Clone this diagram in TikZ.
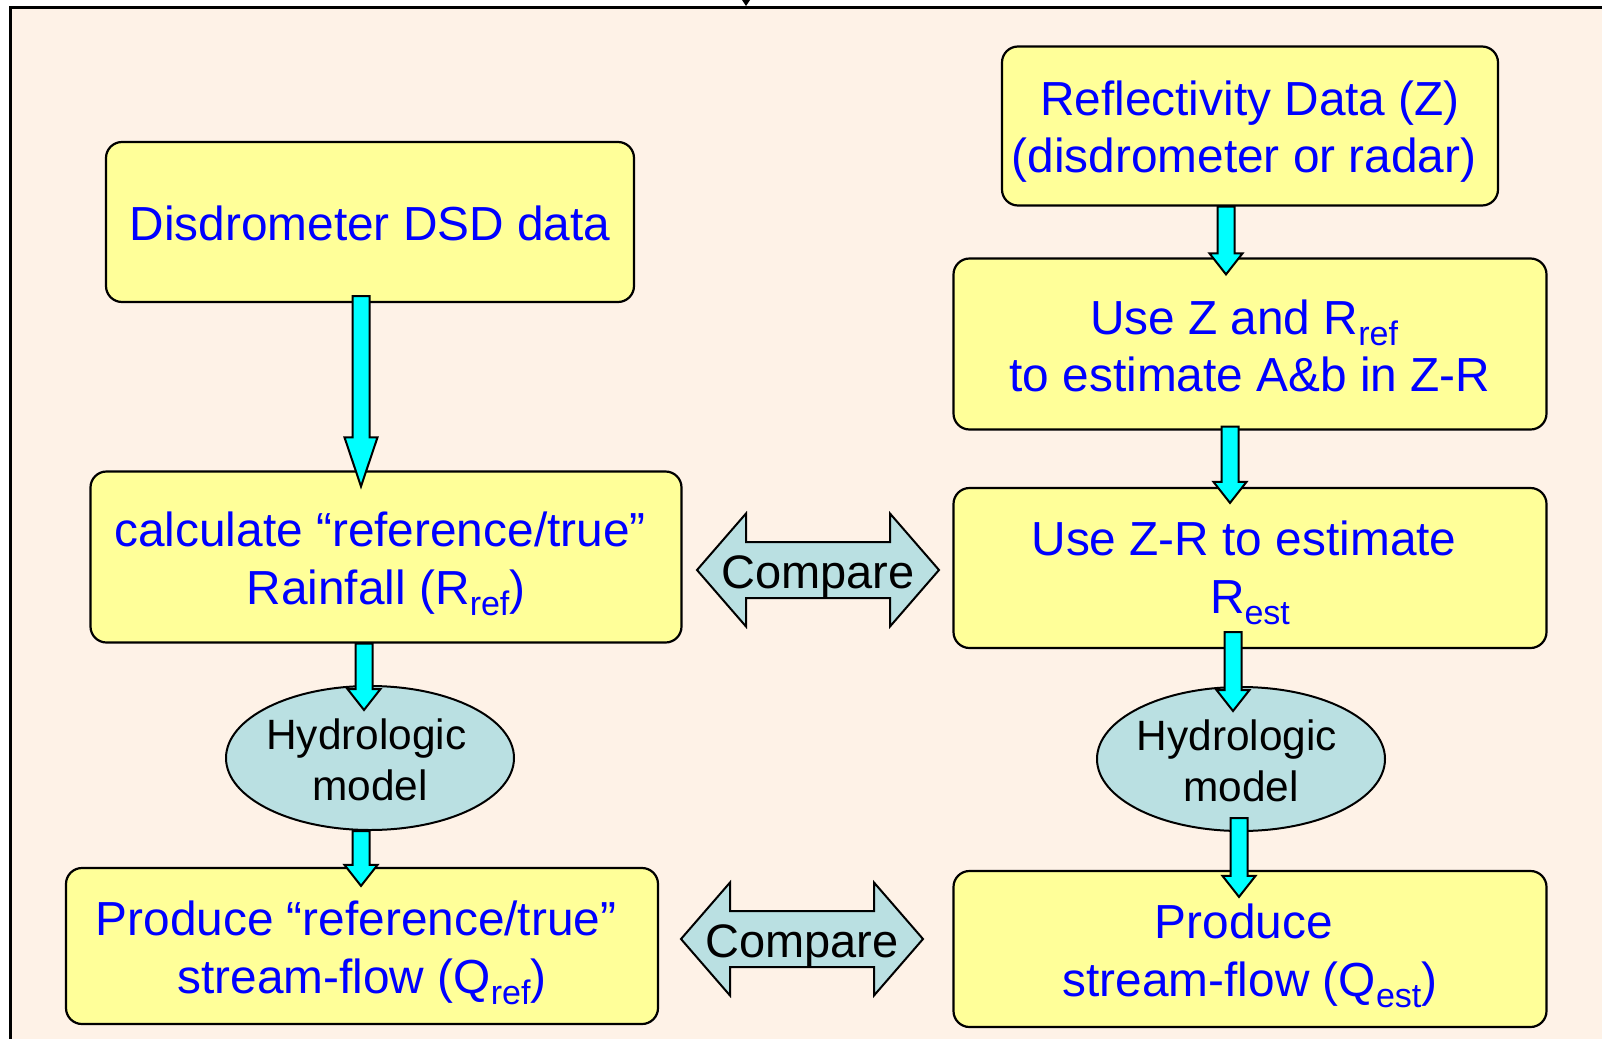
\documentclass[tikz,border=0pt]{standalone}
\usepackage{fontspec}
\setmainfont{Liberation Sans}
\usetikzlibrary{calc,shapes.geometric}
\definecolor{bgpeach}{RGB}{254,242,231}
\definecolor{boxy}{RGB}{255,255,153}
\definecolor{ellb}{RGB}{186,224,226}
\definecolor{txtb}{RGB}{0,0,255}
\definecolor{arrc}{RGB}{0,255,255}
\newcommand\sbs[1]{\raisebox{-5.6pt}{\fontsize{17}{17}\selectfont #1}}
\newcommand\trail{\hspace*{6pt}}
\newcommand\cyarrow[3]{\draw[cyarr] let \p1=(#1), \p2=(#2) in
  (\x1-4.25pt,\y1) -- (\x1-4.25pt,\y2+#3) -- (\x1-8.25pt,\y2+#3) -- (\x1,\y2)
  -- (\x1+8.25pt,\y2+#3) -- (\x1+4.25pt,\y2+#3) -- (\x1+4.25pt,\y1) -- cycle;}
\newcommand\cmparrow[1]{\draw[cmpar] ($(#1)+(-121,0)$) -- ($(#1)+(-72,-56.5)$) -- ($(#1)+(-72,-28)$)
  -- ($(#1)+(72,-28)$) -- ($(#1)+(72,-56.5)$) -- ($(#1)+(121,0)$) -- ($(#1)+(72,56.5)$)
  -- ($(#1)+(72,28)$) -- ($(#1)+(-72,28)$) -- ($(#1)+(-72,56.5)$) -- cycle;}
\tikzset{
  flowbox/.style={draw=black, line width=1.1pt, fill=boxy, rounded corners=8pt, inner sep=0pt},
  boxtext/.style={align=center, text=txtb, inner sep=0pt, font=\fontsize{23.9}{28.6}\selectfont},
  hydro/.style={ellipse, draw=black, line width=1pt, fill=ellb, inner sep=0pt,
    minimum width=144pt, minimum height=72pt},
  hydrotext/.style={align=center, text=black, inner sep=0pt, font=\fontsize{21.2}{25.5}\selectfont},
  cyarr/.style={draw=black, line width=1pt, fill=arrc, line join=miter},
  cmpar/.style={draw=black, line width=1pt, fill=ellb, line join=miter},
  cmptext/.style={text=black, inner sep=0pt, font=\fontsize{23.5}{28}\selectfont}
}
\begin{document}
\begin{tikzpicture}[x=0.5pt,y=-0.5pt]
\useasboundingbox (0,0) rectangle (1602,1039);
\fill[white] (0,0) rectangle (1602,1039);
\fill[bgpeach] (10,7) rectangle (1602,1039);
\draw[line width=1.3pt] (10.3,1039) -- (10.3,7.5) -- (1602,7.5);
\fill (742,0) -- (750,0) -- (746,6) -- cycle;

\node[flowbox, minimum width=264pt, minimum height=80pt] (b1) at (370,222) {};
\node[flowbox, minimum width=248pt, minimum height=79.5pt] (b2) at (1250,126) {};
\node[flowbox, minimum width=296.5pt, minimum height=85.5pt] (b3) at (1250,344) {};
\node[flowbox, minimum width=295.5pt, minimum height=85.5pt] (b4) at (386,557) {};
\node[flowbox, minimum width=296.5pt, minimum height=80pt] (b5) at (1250,568) {};
\node[flowbox, minimum width=296pt, minimum height=78pt] (b6) at (362,946) {};
\node[flowbox, minimum width=296.5pt, minimum height=78pt] (b7) at (1250,949) {};
\node[hydro] (e1) at (370,758) {};
\node[hydro] (e2) at (1241,759) {};

\node[boxtext] (t1) at ($(b1)+(0,1)$) {Disdrometer DSD data};
\node[boxtext] (t2) at ($(b2)+(0,6)$) {Reflectivity Data (Z)\\(disdrometer or radar)\trail};
\node[boxtext] (t3) at ($(b3)+(0,2)$) {Use Z and R\sbs{ref}\trail\\to estimate A\&b in Z-R};
\node[boxtext] (t4) at ($(b4)+(0,7)$) {calculate “reference/true”\trail\\Rainfall (R\sbs{ref})};
\node[boxtext] (t5) at ($(b5)+(0,5)$) {Use Z-R to estimate\trail\\R\sbs{est}};
\node[boxtext] (t6) at ($(b6)+(0,7)$) {Produce “reference/true”\trail\\stream-flow (Q\sbs{ref})};
\node[boxtext] (t7) at ($(b7)+(0,7)$) {Produce\trail\\stream-flow (Q\sbs{est})};
\node[hydrotext] (h1) at ($(e1)+(0,2)$) {Hydrologic\hspace*{3.5pt}\\model};
\node[hydrotext] (h2) at ($(e2)+(0,2)$) {Hydrologic\hspace*{4pt}\\model};

\cyarrow{$(b1.south)+(-9,-7)$}{$(b4.north)+(0,16)$}{24.5pt}
\cyarrow{$(b2.south)+(-24,0)$}{$(b3.north)+(0,17)$}{10.5pt}
\cyarrow{$(b3.south)+(-20,-4)$}{$(b5.north)+(0,16)$}{10.5pt}
\cyarrow{$(b4.south)+(-22,0)$}{$(e1.north)+(0,25)$}{10.5pt}
\cyarrow{$(b5.south)+(-17,-17)$}{$(e2.north)+(0,25)$}{10.5pt}
\cyarrow{$(e1.south)+(-9,0)$}{$(b6.north)+(0,19)$}{10.5pt}
\cyarrow{$(e2.south)+(-2,-14)$}{$(b7.north)+(0,27)$}{10.5pt}

\coordinate (c1) at (818,570);
\coordinate (c2) at (802,939);
\cmparrow{c1}
\cmparrow{c2}
\node[cmptext] (cmp1) at ($(c1)+(0,7)$) {Compare};
\node[cmptext] (cmp2) at ($(c2)+(0,7)$) {Compare};
\end{tikzpicture}
\end{document}
